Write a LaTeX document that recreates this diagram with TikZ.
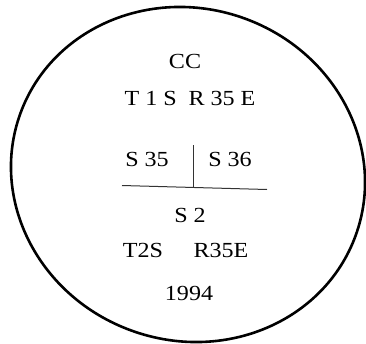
\documentclass[tikz,border=0pt]{standalone}
\usepackage{fontspec}
\setmainfont{Liberation Serif}[FakeStretch=1.12]
\begin{document}
\begin{tikzpicture}[x=1pt,y=-1pt,
  lbl/.style={inner sep=0pt,font=\fontsize{21.5}{25}\selectfont},
  rule/.style={line width=1pt,black!80}]
\useasboundingbox (0,0) rectangle (366,343);
\draw[line width=2.6pt,rotate around={-20:(188,174.5)}] (188,174.5) ellipse [x radius=178.4pt,y radius=166pt];
\node[lbl] (cc) at (185,61) {CC};
\node[lbl] (t1) at (190,98) {T 1 S\hspace{0.55em}R 35 E};
\node[lbl] (s35) at (147,159) {S 35};
\node[lbl] (s36) at (230,159) {S 36};
\coordinate (vt) at (193,145);
\coordinate (vb) at (193,187.5);
\coordinate (hl) at (122,185.5);
\coordinate (hr) at (267,189.5);
\draw[rule] (vt) -- (vb);
\draw[rule] (hl) -- (hr);
\node[lbl] (s2) at (190,215) {S 2};
\node[lbl] (t2s) at (143,250) {T2S};
\node[lbl] (r35e) at (221,250) {R35E};
\node[lbl] (yr) at (189,293) {1994};
\end{tikzpicture}
\end{document}
